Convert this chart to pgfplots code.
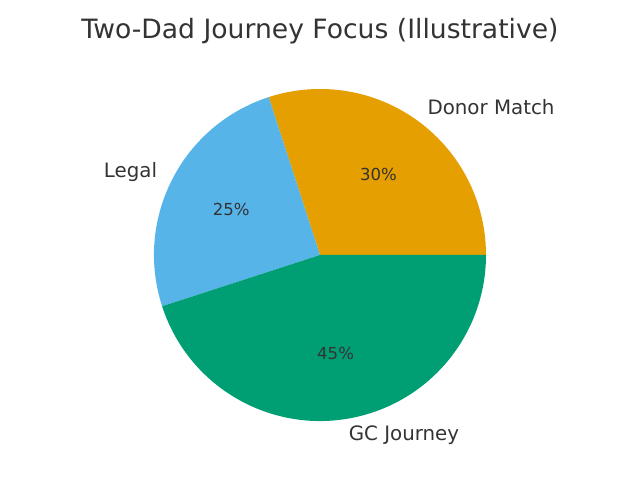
\documentclass[border=0pt]{standalone}
\usepackage{fontspec}
\setmainfont{DejaVu Sans}
\usepackage{pgfplots}
\pgfplotsset{compat=1.18}
\definecolor{cOrange}{HTML}{E69F00}
\definecolor{cBlue}{HTML}{56B4E9}
\definecolor{cGreen}{HTML}{009E73}
\definecolor{txt}{HTML}{333333}
\begin{document}
\begin{tikzpicture}
\begin{axis}[width=640bp,height=480bp,scale only axis,hide axis,
  xmin=0,xmax=640,ymin=0,ymax=480,clip=false]
\path (axis cs:0,0) rectangle (axis cs:640,480);
% shares: Donor Match 30, Legal 25, GC Journey 45 (start 0 deg, counterclockwise)
\fill[cOrange] (axis cs:320,225) -- ++(0:166bp) arc[start angle=0,end angle=108,radius=166bp] -- cycle;
\fill[cBlue] (axis cs:320,225) -- ++(108:166bp) arc[start angle=108,end angle=198,radius=166bp] -- cycle;
\fill[cGreen] (axis cs:320,225) -- ++(198:166bp) arc[start angle=198,end angle=360,radius=166bp] -- cycle;
\node[anchor=west,inner sep=0pt,text=txt,font=\fontsize{19.9}{23}\selectfont] at (axis cs:427.3,372.7) {Donor Match};
\node[anchor=east,inner sep=0pt,text=txt,font=\fontsize{19.9}{23}\selectfont] at (axis cs:157.3,307.9) {Legal};
\node[anchor=west,inner sep=0pt,text=txt,font=\fontsize{19.9}{23}\selectfont] at (axis cs:348.6,44.6) {GC Journey};
\node[inner sep=0pt,text=txt,font=\fontsize{16.6}{20}\selectfont] at (axis cs:378.5,305.6) {30\%};
\node[inner sep=0pt,text=txt,font=\fontsize{16.6}{20}\selectfont] at (axis cs:231.3,270.2) {25\%};
\node[inner sep=0pt,text=txt,font=\fontsize{16.6}{20}\selectfont] at (axis cs:335.6,126.6) {45\%};
\node[inner sep=0pt,text=txt,font=\fontsize{26.7}{31}\selectfont] at (axis cs:320,448.5) {Two-Dad Journey Focus (Illustrative)};
\end{axis}
\end{tikzpicture}
\end{document}
